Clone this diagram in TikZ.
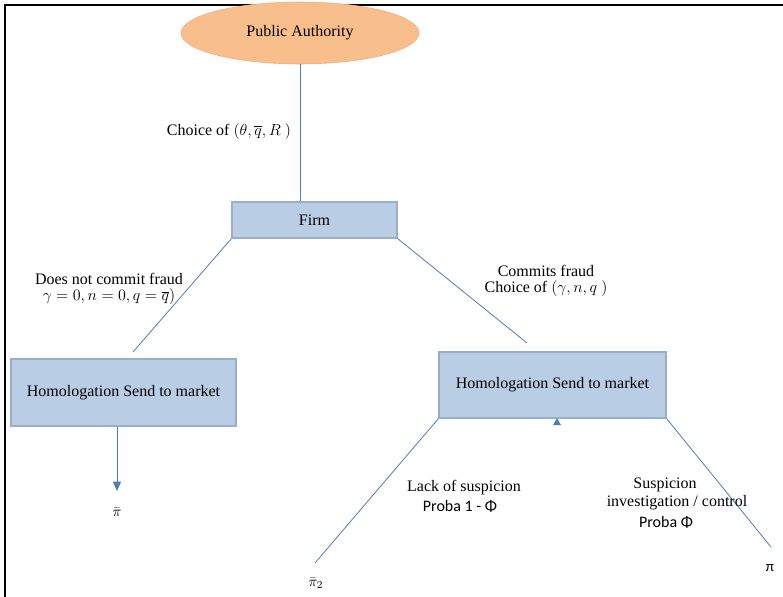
\documentclass[tikz,border=0pt]{standalone}
\usepackage{fontspec}
\setmainfont{Liberation Serif}
\newfontfamily\calib{Carlito}
\usetikzlibrary{shapes.geometric,arrows.meta}
\definecolor{lineblue}{HTML}{4A7EBB}
\definecolor{boxfill}{HTML}{B9CDE5}
\definecolor{boxdraw}{HTML}{98AFCB}
\definecolor{ovalfill}{HTML}{F8BE8C}
\definecolor{ovaldraw}{HTML}{F0B080}
\begin{document}
\begin{tikzpicture}[x=0.75pt,y=-0.75pt,
  every node/.style={font=\fontsize{12}{14}\selectfont},
  boxnode/.style={draw=boxdraw,fill=boxfill,line width=0.8pt,inner sep=0pt},
  conn/.style={draw=lineblue,line width=0.6pt},
  lbl/.style={align=center,inner sep=0pt},
  pilbl/.style={font=\fontsize{11}{13}\selectfont}]
\useasboundingbox (0,0) rectangle (783,597);
\draw[line width=1.1pt] (5,597) -- (5,5) -- (783,5);
\node[ellipse,draw=ovaldraw,fill=ovalfill,minimum width=178.5pt,minimum height=46.5pt,inner sep=0pt] (pa) at (300,33) {Public Authority};
\node[boxnode,minimum width=123.75pt,minimum height=27pt] (firm) at (314.5,220) {Firm};
\node[boxnode,minimum width=168.75pt,minimum height=50.25pt] (hl) at (123.5,392.5) {Homologation Send to market};
\node[boxnode,minimum width=170.25pt,minimum height=49.5pt] (hr) at (552.5,385) {Homologation Send to market};
\draw[conn] (pa.south) -- (pa.south |- firm.north);
\node[lbl] (c1) at (229,131) {Choice of $(\theta,\overline{q},R\ )$};
\draw[conn] (firm.south west) -- (133,352) coordinate (e1);
\draw[conn] (firm.south east) -- (527,343) coordinate (e2);
\node[lbl,anchor=north] (nf) at (109,273) {Does not commit fraud\\[-2pt] $\gamma=0,n=0,q=\overline{q})$};
\node[lbl,anchor=north] (cf) at (546,265) {Commits fraud\\[-2pt] Choice of $(\gamma,n,q\ )$};
\coordinate (a1) at (117,427);
\draw[conn,-{Triangle[length=7pt,width=6pt]}] (a1) -- (117,491);
\node[pilbl] (pib) at (117,512) {$\bar{\pi}$};
\draw[conn] (hr.south west) -- (315,563) coordinate (e3);
\draw[conn] (hr.south east) -- (771,547) coordinate (e4);
\fill[lineblue] (553,425) -- (561,425) -- (557,418) -- cycle;
\node[lbl] (ls) at (464,488) {Lack of suspicion};
\node[lbl] (p1) at (460,506) {\calib Proba 1 - Φ};
\node[lbl] (su) at (665,485) {Suspicion};
\node[lbl] (ic) at (677,503) {investigation / control};
\node[lbl] (p2) at (666,522) {\calib Proba Φ};
\node[pilbl] (pi2) at (316,583) {$\bar{\pi}_2$};
\node[pilbl] (pi) at (770,568) {\calib π};
\end{tikzpicture}
\end{document}
